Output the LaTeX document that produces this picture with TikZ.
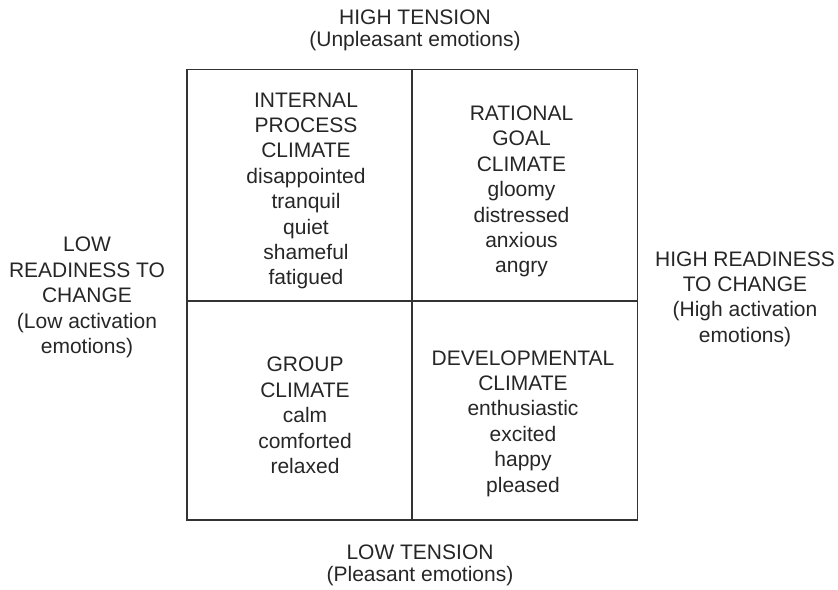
\documentclass[tikz,border=0pt]{standalone}
\usepackage{fontspec}
\setmainfont{Liberation Sans}
\usepackage{tikz}

\begin{document}
\begin{tikzpicture}[x=0.5pt, y=-0.5pt, line width=0.6pt,
    label/.style={inner sep=0pt, align=center, text=black!85,
      font=\fontsize{10.5}{12.7}\selectfont},
    axislabel/.style={label, font=\fontsize{10.5}{11.3}\selectfont}]
    \useasboundingbox (0, 0) rectangle (838, 589);

    % draw outer box and the two dividing lines
    \draw[color=black!80] (187, 69.5) rectangle (637.5, 520);
    \draw[color=black!80] (412, 69.5) -- (412, 520);
    \draw[color=black!80] (187, 301) -- (637.5, 301);

    % draw tension labels
    \node[axislabel] (hightension) at (415, 30.5) {HIGH TENSION\\(Unpleasant emotions)};
    \node[axislabel] (lowtension) at (420, 565.5) {LOW TENSION\\(Pleasant emotions)};

    % draw readiness labels
    \node[label] (lowready) at (87, 297.5)
      {LOW\\READINESS TO\\CHANGE\\(Low activation\\emotions)};
    \node[label] (highready) at (745, 299)
      {HIGH READINESS\\TO CHANGE\\(High activation\\emotions)};

    % draw climates
    \node[label] (internal) at (306, 191)
      {INTERNAL\\PROCESS\\CLIMATE\\disappointed\\tranquil\\quiet\\shameful\\fatigued};
    \node[label] (rational) at (521.5, 191.5)
      {RATIONAL\\GOAL\\CLIMATE\\gloomy\\distressed\\anxious\\angry};
    \node[label] (group) at (305, 415.5)
      {GROUP\\CLIMATE\\calm\\comforted\\relaxed};
    \node[label] (developmental) at (523, 423.5)
      {DEVELOPMENTAL\\CLIMATE\\enthusiastic\\excited\\happy\\pleased};

\end{tikzpicture}
\end{document}
